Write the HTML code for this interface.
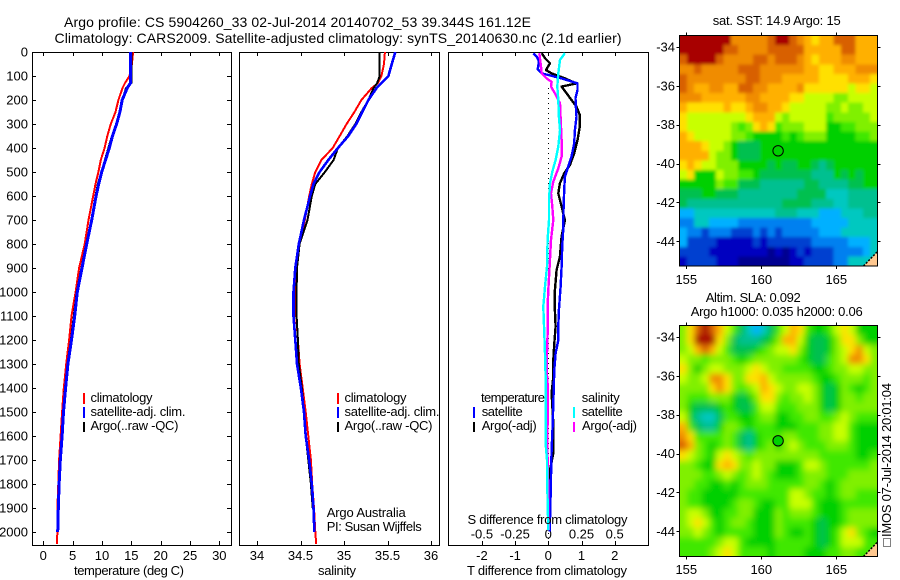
<!DOCTYPE html>
<html lang="en">
<head>
<meta charset="utf-8">
<title>Argo profile</title>
<style>
html,body{margin:0;padding:0;background:#fff;}
svg{display:block;}
text{font-family:"Liberation Sans",sans-serif;font-size:13px;fill:#000;}
</style>
</head>
<body>
<svg id="chart" width="900" height="580" viewBox="0 0 900 580" xmlns="http://www.w3.org/2000/svg">
<defs>
<clipPath id="clip-temp"><rect x="32" y="52" width="200" height="494"/></clipPath>
<clipPath id="clip-sal"><rect x="239" y="52" width="201" height="494"/></clipPath>
<clipPath id="clip-diff"><rect x="448" y="52" width="201" height="494"/></clipPath>
<clipPath id="clip-sst-map"><rect x="679.5" y="35.5" width="198" height="230.5"/></clipPath>
<clipPath id="clip-sla-map"><rect x="679.5" y="325.5" width="198" height="231"/></clipPath>
<filter id="blur-sst-map" filterUnits="userSpaceOnUse" x="650" y="0" width="250" height="290"><feGaussianBlur stdDeviation="1.6"/></filter>
<filter id="blur-sla-map" filterUnits="userSpaceOnUse" x="650" y="290" width="250" height="290"><feGaussianBlur stdDeviation="3.2"/></filter>
</defs>
<text x="64" y="27" style="font-size:14px" textLength="467">Argo profile: CS 5904260_33 02-Jul-2014 20140702_53 39.344S 161.12E</text>
<text x="54.5" y="43" style="font-size:14px" textLength="567">Climatology: CARS2009. Satellite-adjusted climatology: synTS_20140630.nc (2.1d earlier)</text>

<g id="map-sst"></g>
<g id="map-sla"></g>
<g id="panel-temp"></g>
<g id="panel-sal"></g>
<g id="panel-diff"></g>

<text x="74" y="575" textLength="110">temperature (deg C)</text>
<text x="318" y="575" textLength="38">salinity</text>
<text x="467" y="575" textLength="160">T difference from climatology</text>
<text x="467.5" y="524" textLength="160">S difference from climatology</text>

<g>
<line x1="84" x2="84" y1="393" y2="404" stroke="#f00" stroke-width="2"/>
<text x="90.5" y="402" textLength="62">climatology</text>
<line x1="84" x2="84" y1="407" y2="418" stroke="#00f" stroke-width="2"/>
<text x="90.5" y="416" textLength="95">satellite-adj. clim.</text>
<line x1="84" x2="84" y1="422" y2="432" stroke="#000" stroke-width="2"/>
<text x="90.5" y="430" textLength="88">Argo(..raw -QC)</text>
</g>
<g>
<line x1="338" x2="338" y1="393" y2="404" stroke="#f00" stroke-width="2"/>
<text x="344.5" y="402" textLength="62">climatology</text>
<line x1="338" x2="338" y1="407" y2="418" stroke="#00f" stroke-width="2"/>
<text x="344.5" y="416" textLength="95">satellite-adj. clim.</text>
<line x1="338" x2="338" y1="422" y2="432" stroke="#000" stroke-width="2"/>
<text x="344.5" y="430" textLength="88">Argo(..raw -QC)</text>
<text x="326.7" y="517" textLength="79">Argo Australia</text>
<text x="326.7" y="531" textLength="95">PI: Susan Wijffels</text>
</g>
<g>
<text x="481" y="402" textLength="64">temperature</text>
<line x1="474" x2="474" y1="407" y2="418" stroke="#00f" stroke-width="2"/>
<text x="481.7" y="416" textLength="41">satellite</text>
<line x1="474" x2="474" y1="422" y2="432" stroke="#000" stroke-width="2"/>
<text x="481.7" y="430" textLength="55">Argo(-adj)</text>
<text x="581.7" y="402" textLength="38">salinity</text>
<line x1="574" x2="574" y1="407" y2="418" stroke="#0ff" stroke-width="2"/>
<text x="581.7" y="416" textLength="41">satellite</text>
<line x1="574" x2="574" y1="422" y2="432" stroke="#f0f" stroke-width="2"/>
<text x="582" y="430" textLength="55">Argo(-adj)</text>
</g>

<text x="712.7" y="25" textLength="128">sat. SST: 14.9 Argo: 15</text>
<text x="705.7" y="302" textLength="95">Altim. SLA: 0.092</text>
<text x="690.7" y="316" textLength="172">Argo h1000: 0.035 h2000: 0.06</text>
<rect x="883.5" y="538.5" width="7" height="8" fill="none" stroke="#000" stroke-width="1" stroke-dasharray="1,1"/>
<text transform="translate(891,537) rotate(-90)" x="0" y="0" textLength="154">IMOS 07-Jul-2014 20:01:04</text>
</svg>
<script>
// ---------- axis tick data ----------
const depthTicks = [0,100,200,300,400,500,600,700,800,900,1000,1100,1200,1300,1400,1500,1600,1700,1800,1900,2000];
const tempTicks = [0,5,10,15,20,25,30];
const salTicks = [34,34.5,35,35.5,36];
const tDiffTicks = [-2,-1,0,1,2];
const sDiffTicks = [-0.5,-0.25,0,0.25,0.5];
const lonTicks = [155,160,165];
const latTicks = [-34,-36,-38,-40,-42,-44];

// ---------- profile data ----------
const depths = [0,50,100,130,150,200,250,300,350,400,450,500,550,600,700,800,900,1000,1100,1200,1300,1400,1500,1600,1700,1800,1900,2000,2050];
const tempClim = [15.3,15.1,14.7,13.9,13.5,12.8,12.3,11.5,10.9,10.45,9.8,9.4,8.9,8.5,7.7,7.05,6.1,5.5,4.8,4.4,3.9,3.5,3.2,2.95,2.7,2.55,2.4,2.4,2.3];
const tempSat = [14.85,14.85,14.85,14.85,14.3,13.45,13.05,12.5,11.8,11.25,10.6,9.95,9.45,9,8.25,7.4,6.6,5.8,5.35,4.8,4.2,3.8,3.45,3.2,2.9,2.7,2.55,2.45,null];
const tempArgo = [15,15,15,15,14.1,13.5,13,12.4,11.7,11.1,10.5,9.9,9.3,8.9,8.2,7.3,6.5,5.7,5.2,4.7,4.1,3.7,3.4,3.2,2.95,2.75,2.5,null,null];
const salClim = [35.47,35.46,35.43,35.39,35.32,35.2,35.12,35.03,34.95,34.87,34.74,34.67,34.63,34.6,34.55,34.49,34.44,34.43,34.45,34.47,34.49,34.525,34.56,34.59,34.62,34.635,34.655,34.67,34.68];
const salSat = [35.59,35.55,35.51,35.43,35.375,35.28,35.21,35.14,35.05,34.93,34.82,34.72,34.65,34.61,34.54,34.48,34.44,34.42,34.42,34.44,34.46,34.505,34.54,34.56,34.6,34.63,34.65,34.66,null];
const salArgo = [35.41,35.41,35.41,35.38,35.34,35.28,35.2,35.13,35.04,34.93,34.88,34.78,34.67,34.63,34.58,34.49,34.46,34.455,34.455,34.47,34.48,34.515,34.54,34.56,34.59,34.62,34.64,null,null];

// ---------- difference data ----------
const satTDepth = [5,19,40,72,89,96,110,131,158,193,228,269,325,381,436,478,519,575,644,742,811,894,978,1075,1144,1200,1256,1325,1422,1561,1658,1769,1908,1998];
const satTDiff = [-0.45,-0.35,-0.28,-0.32,-0.2,0,0.4,0.88,0.88,0.82,0.83,0.85,0.8,0.78,0.7,0.6,0.5,0.48,0.46,0.45,0.42,0.4,0.37,0.32,0.3,0.3,0.22,0.18,0.16,0.13,0.1,0.08,0.06,0.04];
const argoTDepth = [5,26,47,75,89,110,131,144,172,200,228,262,311,367,422,471,506,547,589,644,700,769,853,908,992,1075,1144,1214,1283,1353,1422,1547,1672,1742,1839,1936];
const argoTDiff = [-0.2,-0.1,0.05,-0.07,0.1,0.5,0.85,0.4,0.55,0.7,0.85,0.95,0.95,0.88,0.78,0.65,0.48,0.35,0.3,0.4,0.5,0.4,0.35,0.25,0.2,0.2,0.22,0.18,0.15,0.15,0.1,0.15,0.15,0.05,0.02,0];
const argoSDepth = [5,61,89,110,124,144,172,214,283,367,436,485,540,589,644,700,783,894,992,1061,1172,1256,1325,1381,1547,1631,1742,1839,1992];
const argoSDiff = [-0.068,-0.055,-0.05,-0.013,0.025,0.02,0.05,0.088,0.093,0.1,0.1,0.075,0.038,0.02,0.03,0.038,0.02,0.01,0,-0.005,-0.005,-0.01,-0.013,-0.005,-0.005,-0.008,-0.003,0,0.003];
const satSDepth = [5,33,89,144,200,269,325,394,450,499,547,617,700,783,894,978,1061,1172,1256,1353,1464,1644,1700,1797,1992];
const satSDiff = [0.125,0.088,0.075,0.068,0.075,0.08,0.088,0.075,0.055,0.03,0.013,0.005,0.005,-0.005,-0.01,-0.025,-0.038,-0.03,-0.025,-0.02,-0.018,-0.018,-0.01,-0.008,0];

// ---------- map data: colour-level per 0.5 degree cell, north to south ----------
const sstLevels = [
[16,16,16,16,16,16,16,14,14,14,14,14,15,16,16,15,14,13,12,13,13,15,15,15,13,13,13],
[16,16,16,16,16,16,15,15,14,14,14,14,15,15,15,15,15,13,13,13,13,13,15,15,13,13,13],
[15,16,16,16,16,15,14,14,14,14,15,15,14,15,15,15,14,13,12,13,13,13,14,14,13,13,13],
[14,14,15,14,14,14,14,14,15,15,15,14,14,14,14,14,14,13,13,12,12,13,13,13,14,14,14],
[15,14,14,14,14,14,14,14,14,15,15,14,14,14,13,13,13,13,13,12,12,12,12,13,13,13,12],
[15,14,13,13,14,14,13,13,15,15,14,14,13,13,13,13,14,12,12,12,12,12,12,11,12,12,11],
[14,14,14,13,13,13,13,13,13,14,14,13,13,13,13,12,12,11,11,11,11,10,10,11,11,11,11],
[13,12,12,12,12,12,13,12,12,13,14,14,13,13,12,11,11,11,11,11,10,10,11,10,10,11,11],
[12,11,11,11,11,11,11,11,11,12,13,13,13,11,10,11,11,11,11,11,9,10,10,10,10,10,11],
[12,11,11,11,11,11,11,10,9,10,12,13,12,9,10,10,10,11,11,11,8,8,9,9,10,10,10],
[13,12,11,11,11,11,11,10,10,9,8,8,8,8,9,8,9,10,10,10,8,8,8,8,9,9,10],
[13,13,13,12,11,11,10,8,7,7,7,8,8,8,8,8,8,8,8,8,8,8,8,8,8,8,8],
[13,13,13,13,11,10,10,8,7,7,7,8,8,8,8,8,8,8,8,8,8,8,8,8,8,8,8],
[12,13,12,11,11,10,10,10,8,8,8,8,7,8,7,7,8,8,7,6,7,8,8,8,8,8,8],
[11,12,8,8,8,11,10,10,9,9,8,7,7,7,7,7,7,7,6,6,6,8,7,8,7,8,8],
[8,8,8,8,8,10,9,9,7,7,7,6,6,6,6,6,6,7,7,6,6,6,6,7,7,8,8],
[7,7,7,8,8,7,7,7,6,6,6,6,6,6,6,6,7,7,7,7,5,5,5,6,6,6,6],
[7,6,6,6,6,6,6,6,6,6,6,6,6,6,7,7,7,7,6,6,6,5,5,6,6,6,6],
[4,4,5,5,5,5,5,5,5,5,5,5,5,6,6,6,5,5,5,4,4,4,5,5,5,6,6],
[3,3,5,5,4,4,4,4,3,3,3,3,3,3,3,3,3,3,4,4,4,4,4,5,5,5,5],
[4,3,3,2,3,3,3,2,2,2,3,2,3,2,3,3,3,3,3,4,4,4,5,5,5,5,5],
[4,2,2,2,2,1,1,1,1,1,2,1,2,2,2,2,2,2,3,3,3,3,3,4,4,4,5],
[2,2,2,2,1,1,1,1,1,1,1,1,0,1,0,1,2,1,2,2,2,3,3,3,3,4,5],
[1,2,2,2,2,1,1,1,0,0,0,0,0,0,0,1,1,2,2,2,2,3,3,5,5,5,5]
];
const slaLevels = [
[10,12,15,16,15,13,11,9,7,5,4,5,7,9,11,13,12,9,8,8,9,11,12,11,8,8,8],
[10,12,16,16,16,12,10,7,6,6,6,7,8,10,13,13,11,8,7,7,8,10,12,12,10,8,8],
[10,11,13,15,13,11,9,7,7,7,8,9,10,11,11,12,10,8,7,7,8,10,11,12,14,11,10],
[11,10,10,9,10,10,10,9,8,9,10,10,10,10,10,10,9,8,7,7,9,10,11,14,14,12,10],
[12,10,8,10,11,11,10,10,10,11,12,11,10,10,9,9,9,9,8,8,9,10,10,11,11,10,10],
[11,10,10,11,14,14,12,10,10,12,12,13,11,10,10,10,10,10,9,8,8,9,10,10,10,9,10],
[10,10,10,10,12,14,12,10,9,10,11,13,12,11,10,10,11,11,10,8,7,8,10,9,8,9,10],
[10,9,9,9,10,10,10,8,7,8,10,12,12,10,9,10,10,11,10,8,7,8,10,10,9,10,10],
[10,8,7,7,7,8,9,8,7,7,9,11,11,9,9,9,10,10,10,8,7,8,10,10,10,10,10],
[11,8,6,5,5,7,9,9,8,8,9,10,10,8,8,9,9,10,10,9,9,10,11,10,9,9,9],
[13,9,7,6,6,8,10,10,9,8,9,9,9,8,8,8,9,9,9,10,10,11,11,9,8,8,8],
[14,12,9,9,9,9,10,9,7,6,8,9,9,9,10,10,9,9,9,10,10,11,11,9,8,8,8],
[15,13,10,9,8,9,10,9,7,6,8,9,10,8,10,11,10,9,9,9,10,10,10,9,8,8,8],
[12,11,10,9,8,11,12,11,10,9,10,10,10,10,10,10,10,10,10,9,9,9,9,9,8,8,9],
[10,10,9,8,8,12,13,12,10,10,11,10,10,8,8,8,9,11,11,10,9,9,9,9,9,9,10],
[10,10,10,9,9,10,11,10,9,10,11,10,9,8,8,8,9,10,10,10,9,9,9,10,10,10,10],
[10,10,9,9,8,8,9,8,9,10,10,10,9,9,9,9,9,10,10,9,8,9,10,10,10,10,10],
[10,9,9,8,8,8,8,8,9,9,9,9,9,9,9,11,11,10,9,9,8,9,10,10,9,9,9],
[10,9,9,8,8,8,8,9,10,10,9,8,8,9,9,11,11,11,9,8,8,8,9,9,9,9,9],
[10,11,11,10,8,8,9,9,10,10,8,8,8,10,9,10,10,10,9,8,8,8,9,10,10,10,10],
[10,11,12,11,9,8,9,10,10,9,8,8,8,10,9,9,9,9,8,7,8,8,9,10,10,10,10],
[10,10,11,10,9,8,9,9,9,9,8,8,8,10,9,8,8,9,8,7,8,9,11,12,10,9,8],
[9,9,9,9,9,10,11,11,9,8,8,8,8,9,9,9,9,9,8,7,8,9,11,11,11,9,9],
[9,9,9,9,10,11,12,11,9,9,9,9,8,9,9,9,9,8,8,8,9,9,10,10,9,9,9]
];
const levelColors = ['#000090','#0000c0','#0040d0','#0080f0','#00b0ff','#00c8c0','#00c090','#00c050','#00d000','#40e800','#80f000','#c8ff00','#ffe000','#ffb000','#f08c00','#d86000','#a80000'];
const argoLon = 161.12;
const argoLat = -39.344;

// ---------- drawing helpers ----------
const SVGNS = 'http://www.w3.org/2000/svg';
function make(tag, parent, attrs) {
  const el = document.createElementNS(SVGNS, tag);
  for (const k in attrs) el.setAttribute(k, attrs[k]);
  parent.appendChild(el);
  return el;
}
const depthTop = 52, depthScale = 0.24, frameBottom = 545.5;
function yDepth(d) { return depthTop + d * depthScale; }
function xTemp(t) { return 43.3 + t * 5.867; }
function xSal(s) { return 257 + (s - 34) * 87; }
function xTDiff(t) { return 548.3 + t * 33.2; }
function xSDiff(s) { return 548.3 + s * 132.8; }

function drawFrame(parent, x, w) {
  const r = make('rect', parent, {x: x, y: 52.5, width: w, height: frameBottom - 52.5, fill: 'none', stroke: '#000', 'stroke-width': 1.2, 'shape-rendering': 'crispEdges'});
  
  
}
function drawVTicks(parent, values, xf, tickName) {
  values.forEach(function (v) {
    const x = Math.round(xf(v)) + 0.5;
    const top = make('line', parent, {x1: x, x2: x, y1: 52, y2: 56, stroke: '#000', 'shape-rendering': 'crispEdges'});
    
    
    const bot = make('line', parent, {x1: x, x2: x, y1: 541, y2: 545, stroke: '#000', 'shape-rendering': 'crispEdges'});
    
    
  });
}
function drawXLabels(parent, values, xf, baseline, labelName) {
  values.forEach(function (v) {
    const t = make('text', parent, {x: xf(v), y: baseline, 'text-anchor': 'middle'});
    t.textContent = String(v);
    
    
  });
}
function drawSeries(parent, xs, ds, xf, color, width, clipId, seriesName) {
  const pts = [];
  xs.forEach(function (v, i) {
    if (v !== null) pts.push(xf(v).toFixed(1) + ',' + yDepth(ds[i]).toFixed(1));
  });
  const line = make('polyline', parent, {points: pts.join(' '), fill: 'none', stroke: color, 'stroke-width': width, 'stroke-linejoin': 'round', 'shape-rendering': 'crispEdges', 'clip-path': 'url(#' + clipId + ')'});
  
  
}

// ---------- temperature panel ----------
const pT = document.getElementById('panel-temp');
drawFrame(pT, 32.5, 199);
depthTicks.forEach(function (d) {
  const y = Math.round(yDepth(d)) + 0.5;
  const l = make('line', pT, {x1: 32, x2: 36, y1: y, y2: y, stroke: '#000', 'shape-rendering': 'crispEdges'});
  
  
  const r = make('line', pT, {x1: 227, x2: 231, y1: y, y2: y, stroke: '#000', 'shape-rendering': 'crispEdges'});
  
  
  const t = make('text', pT, {x: 28, y: yDepth(d) + 4.5, 'text-anchor': 'end'});
  t.textContent = String(d);
  
  
});
drawVTicks(pT, tempTicks, xTemp, 'temperature-tick');
drawXLabels(pT, tempTicks, xTemp, 560, 'temperature-tick-label');
drawSeries(pT, tempClim, depths, xTemp, '#f00', 2, 'clip-temp', 'temperature-climatology-line');
drawSeries(pT, tempArgo, depths, xTemp, '#000', 2, 'clip-temp', 'temperature-argo-line');
drawSeries(pT, tempSat, depths, xTemp, '#00f', 3, 'clip-temp', 'temperature-satellite-line');

// ---------- salinity panel ----------
const pS = document.getElementById('panel-sal');
drawFrame(pS, 239.5, 200);
drawVTicks(pS, salTicks, xSal, 'salinity-tick');
drawXLabels(pS, salTicks, xSal, 560, 'salinity-tick-label');
drawSeries(pS, salClim, depths, xSal, '#f00', 2, 'clip-sal', 'salinity-climatology-line');
drawSeries(pS, salArgo, depths, xSal, '#000', 2, 'clip-sal', 'salinity-argo-line');
drawSeries(pS, salSat, depths, xSal, '#00f', 2.6, 'clip-sal', 'salinity-satellite-line');

// ---------- difference panel ----------
const pD = document.getElementById('panel-diff');
drawFrame(pD, 448.5, 200);
const zero = make('line', pD, {x1: 548.5, x2: 548.5, y1: 88, y2: 545, stroke: '#000', 'stroke-dasharray': '1,4', 'shape-rendering': 'crispEdges'});


drawVTicks(pD, tDiffTicks, xTDiff, 'difference-tick');
drawXLabels(pD, tDiffTicks, xTDiff, 560, 't-difference-tick-label');
drawXLabels(pD, sDiffTicks, xSDiff, 538.5, 's-difference-tick-label');
drawSeries(pD, argoTDiff, argoTDepth, xTDiff, '#000', 2.4, 'clip-diff', 't-difference-argo-line');
drawSeries(pD, satTDiff, satTDepth, xTDiff, '#00f', 2.4, 'clip-diff', 't-difference-satellite-line');
drawSeries(pD, argoSDiff, argoSDepth, xSDiff, '#f0f', 2.4, 'clip-diff', 's-difference-argo-line');
drawSeries(pD, satSDiff, satSDepth, xSDiff, '#0ff', 2.4, 'clip-diff', 's-difference-satellite-line');

// ---------- maps ----------
function drawMap(parent, grid, top, bottom, lat34Y, labelBaseline, markerFill, prefix) {
  const left = 679.5, right = 877.5, pad = 12;
  function xLon(lon) { return 686.3 + (lon - 155) * 15; }
  function yLat(lat) { return lat34Y + (-34 - lat) * 19.43; }
  const nRows = grid.length;
  const nCols = grid[0].length;
  const cw = (right - left) / nCols;
  const ch = (bottom - top) / nRows;
  const clipGroup = make('g', parent, {'clip-path': 'url(#clip-' + prefix + ')'});
  
  
  const field = make('g', clipGroup, {filter: 'url(#blur-' + prefix + ')'});
  
  
  grid.forEach(function (row, r) {
    row.forEach(function (level, c) {
      // edge cells extend past the frame so the smoothing does not fade at the border
      const x0 = left + c * cw - (c === 0 ? pad : 0);
      const x1 = left + (c + 1) * cw + (c === nCols - 1 ? pad : 0);
      const y0 = top + r * ch - (r === 0 ? pad : 0);
      const y1 = top + (r + 1) * ch + (r === nRows - 1 ? pad : 0);
      const cell = make('rect', field, {x: x0, y: y0, width: x1 - x0 + 0.6, height: y1 - y0 + 0.6, fill: levelColors[level], 'shape-rendering': 'crispEdges'});
      
      
    });
  });
  const land = make('polygon', parent, {points: [[right - 14, bottom], [right, bottom - 14.5], [right, bottom]].join(' '), fill: '#ffc890', stroke: 'none'});
  
  
  const coast = make('line', parent, {x1: right - 14, y1: bottom, x2: right, y2: bottom - 14.5, stroke: '#000', 'stroke-width': 1.5, 'stroke-dasharray': '2,1.5'});
  
  
  const frame = make('rect', parent, {x: left, y: top, width: right - left, height: bottom - top, fill: 'none', stroke: '#000', 'shape-rendering': 'crispEdges'});
  
  
  lonTicks.forEach(function (lon) {
    const x = Math.round(xLon(lon)) + 0.5;
    const a = make('line', parent, {x1: x, x2: x, y1: top - 3, y2: top, stroke: '#000', 'shape-rendering': 'crispEdges'});
    
    
    const b = make('line', parent, {x1: x, x2: x, y1: bottom, y2: bottom + 3, stroke: '#000', 'shape-rendering': 'crispEdges'});
    
    
    const t = make('text', parent, {x: xLon(lon), y: labelBaseline, 'text-anchor': 'middle'});
    t.textContent = String(lon);
    
    
  });
  latTicks.forEach(function (lat) {
    const y = Math.round(yLat(lat)) + 0.5;
    const a = make('line', parent, {x1: left - 3, x2: left, y1: y, y2: y, stroke: '#000', 'shape-rendering': 'crispEdges'});
    
    
    const b = make('line', parent, {x1: right, x2: right + 3, y1: y, y2: y, stroke: '#000', 'shape-rendering': 'crispEdges'});
    
    
    const t = make('text', parent, {x: 675, y: yLat(lat) + 4.5, 'text-anchor': 'end'});
    t.textContent = String(lat);
    
    
  });
  const marker = make('circle', parent, {cx: xLon(argoLon), cy: yLat(argoLat), r: 5.2, fill: markerFill, stroke: '#000', 'stroke-width': 1});
  
  
}
drawMap(document.getElementById('map-sst'), sstLevels, 35.5, 266, 47, 284, 'none', 'sst-map');
drawMap(document.getElementById('map-sla'), slaLevels, 325.5, 556.5, 337, 574, levelColors[8], 'sla-map');
</script>
</body>
</html>
